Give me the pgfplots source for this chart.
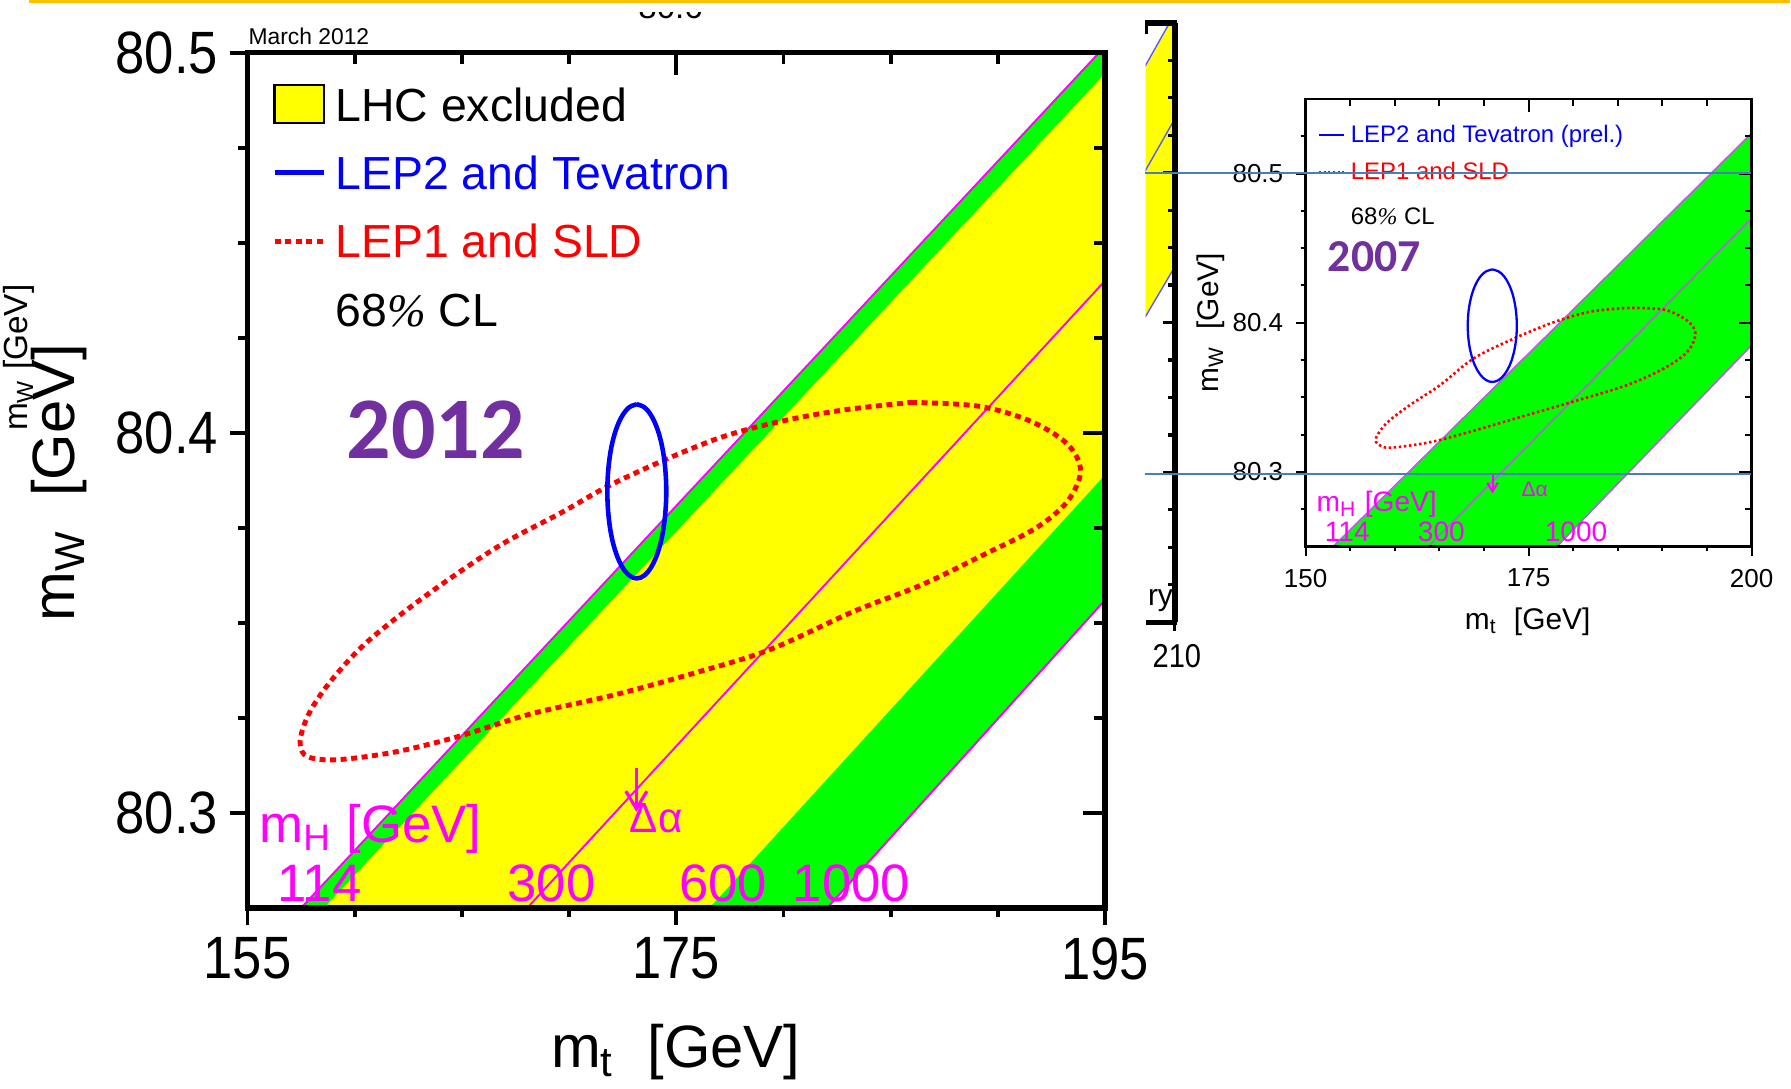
\documentclass[border=0pt]{standalone}
\usepackage{fontspec}
\setmainfont{Liberation Sans}
\newfontfamily\narrowsans[FakeStretch=0.88]{Liberation Sans}
\newfontfamily\calibri{Carlito}
\newfontfamily\timesfont{Liberation Serif}
\usepackage{pgfplots}
\pgfplotsset{compat=1.18}
\usetikzlibrary{arrows.meta}

\definecolor{bandgreen}{RGB}{0,255,0}
\definecolor{bandyellow}{RGB}{255,255,0}
\definecolor{yearpurple}{RGB}{112,48,160}
\definecolor{slidegold}{RGB}{255,192,0}
\definecolor{guideblue}{RGB}{74,126,187}
\definecolor{mhmagenta}{RGB}{255,0,255}
\definecolor{mhviolet}{RGB}{190,90,230}
\definecolor{lepblue}{RGB}{0,0,255}
\definecolor{lepred}{RGB}{255,0,0}
\definecolor{fragblue}{RGB}{90,90,255}

\newcommand{\fs}[1]{\fontsize{#1}{#1}\selectfont}
\newcommand{\pct}{{\timesfont\itshape\%}}

\pgfplotsset{
  framed/.style={scale only axis, clip mode=individual, axis on top,
    scaled ticks=false, /pgf/number format/assume math mode=true},
}

\begin{document}
\begin{tikzpicture}
\useasboundingbox (0,0) rectangle (17.91cm,10.89cm);

% ===================== 2012 panel =====================
\begin{axis}[framed, at={(2.475cm,1.81cm)}, anchor=south west,
  width=8.575cm, height=8.553cm,
  xmin=155, xmax=195, ymin=80.275, ymax=80.5,
  xtick={155,175,195}, minor xtick={160,165,170,180,185,190},
  ytick={80.3,80.4,80.5}, minor ytick={80.325,80.35,80.375,80.425,80.45,80.475},
  tick pos=left, tick align=outside,
  major tick length=0.17cm, minor tick length=0.09cm,
  tick style={black, line width=1.1pt},
  axis line style={line width=1.6pt},
  ticklabel style={font=\narrowsans\fs{17pt}},
]
% m_H band (114 ... 1000 GeV)
\addplot[draw=none, fill=bandgreen] coordinates
  {(156.67,80.27) (196.38,80.51) (197,80.51) (197,80.3685) (181.24,80.27)};
% LHC excluded region
\addplot[draw=none, fill=bandyellow] coordinates
  {(157.74,80.27) (197.57,80.51) (198,80.51) (198,80.4075) (175.73,80.27)};
% constant m_H lines
\addplot[mhmagenta, line width=0.55pt] coordinates {(156.67,80.27) (196.38,80.51)};
\addplot[mhmagenta, line width=0.55pt] coordinates {(167.23,80.27) (196,80.4461)};
\addplot[mhmagenta, line width=0.55pt] coordinates {(181.24,80.27) (197,80.3685)};
% LEP1 and SLD contour
\addplot[lepred, line width=1.4pt, dash pattern=on 1.7pt off 1.3pt, smooth, tension=0.55] coordinates {
  (185.95,80.408) (189.11,80.407) (191.55,80.403) (193.25,80.397) (193.86,80.390)
  (193.25,80.382) (191.79,80.375) (189.36,80.368) (186.44,80.360) (183.27,80.353)
  (179.38,80.343) (175.97,80.337) (172.07,80.331) (168.18,80.326) (164.77,80.320)
  (161.85,80.316) (159.17,80.314) (157.80,80.3148) (157.46,80.318) (157.60,80.3225)
  (158.05,80.328) (158.93,80.335) (160.39,80.344) (162.33,80.353) (164.53,80.362)
  (166.96,80.371) (169.64,80.379) (171.83,80.386) (174.51,80.393) (177.19,80.399)
  (179.86,80.403) (182.79,80.406) (185.95,80.408)};
% LEP2 and Tevatron contour
\addplot[lepblue, line width=1.3pt, smooth, tension=0.6] coordinates {
  (173.160,80.4075) (173.516,80.4067) (173.848,80.4044) (174.132,80.4008) (174.351,80.3961)
  (174.488,80.3905) (174.535,80.3846) (174.488,80.3787) (174.351,80.3731) (174.132,80.3684)
  (173.848,80.3648) (173.516,80.3625) (173.160,80.3617) (172.804,80.3625) (172.472,80.3648)
  (172.188,80.3684) (171.969,80.3731) (171.832,80.3787) (171.785,80.3846) (171.832,80.3905)
  (171.969,80.3961) (172.188,80.4008) (172.472,80.4044) (172.804,80.4067) (173.160,80.4075)};
\draw[mhmagenta, line width=0.9pt, -{Straight Barb[length=5pt,width=6pt]}]
  (axis cs:173.14,80.3119) -- (axis cs:173.14,80.3003);
\end{axis}
% inward ticks on top and right
\begin{axis}[framed, at={(2.475cm,1.81cm)}, anchor=south west,
  width=8.575cm, height=8.553cm,
  xmin=155, xmax=195, ymin=80.275, ymax=80.5,
  xtick={155,175,195}, minor xtick={160,165,170,180,185,190},
  ytick={80.3,80.4,80.5}, minor ytick={80.325,80.35,80.375,80.425,80.45,80.475},
  tick pos=right, tick align=inside,
  major tick length=0.22cm, minor tick length=0.11cm,
  tick style={black, line width=1.1pt},
  axis line style={line width=1.6pt},
  xticklabels={}, yticklabels={},
]
\end{axis}

% ===================== 2007 panel =====================
\begin{axis}[framed, at={(13.056cm,5.425cm)}, anchor=south west,
  width=4.46cm, height=4.475cm,
  xmin=150, xmax=200, ymin=80.25, ymax=80.55,
  xtick={150,175,200}, minor xtick={155,160,165,170,180,185,190,195},
  ytick={80.3,80.4,80.5}, minor ytick={80.275,80.325,80.35,80.375,80.425,80.45,80.475,80.525},
  tick pos=left, tick align=outside,
  major tick length=0.1cm, minor tick length=0.05cm,
  tick style={black, line width=0.6pt},
  axis line style={line width=0.8pt},
  ticklabel style={font=\fs{7.4pt}},
]
\addplot[draw=none, fill=bandgreen] coordinates
  {(151.41,80.24) (205,80.5565) (205,80.4157) (176.57,80.24)};
\addplot[mhviolet, line width=0.45pt] coordinates {(151.41,80.24) (205,80.5565)};
\addplot[mhviolet, line width=0.45pt] coordinates {(162.13,80.24) (205,80.5003)};
\addplot[mhviolet, line width=0.45pt] coordinates {(176.57,80.24) (205,80.4157)};
\addplot[lepred, line width=0.75pt, dash pattern=on 0.7pt off 0.75pt, smooth, tension=0.55] coordinates {
  (186.04,80.4099) (190.16,80.4088) (192.78,80.4014) (193.71,80.3926) (192.78,80.3804)
  (190.16,80.3693) (186.04,80.3582) (180.05,80.3472) (173.69,80.3361) (167.33,80.3250)
  (163.59,80.3195) (159.47,80.3162) (158.16,80.3184) (157.90,80.3228) (159.10,80.3328)
  (161.72,80.3449) (165.09,80.3582) (168.83,80.3760) (173.32,80.3893) (177.81,80.4003)
  (181.93,80.4074) (186.04,80.4099)};
\addplot[lepblue, line width=0.65pt, smooth, tension=0.6] coordinates {
  (170.930,80.4357) (171.642,80.4344) (172.305,80.4307) (172.875,80.4247) (173.312,80.4169)
  (173.586,80.4078) (173.680,80.3980) (173.586,80.3882) (173.312,80.3792) (172.875,80.3713)
  (172.305,80.3654) (171.642,80.3616) (170.930,80.3603) (170.218,80.3616) (169.555,80.3654)
  (168.985,80.3713) (168.548,80.3792) (168.274,80.3882) (168.180,80.3980) (168.274,80.4078)
  (168.548,80.4169) (168.985,80.4247) (169.555,80.4307) (170.218,80.4344) (170.930,80.4357)};
\draw[mhmagenta, line width=0.6pt, -{Straight Barb[length=2.5pt,width=3pt]}]
  (axis cs:170.96,80.298) -- (axis cs:170.96,80.2855);
\end{axis}
\begin{axis}[framed, at={(13.056cm,5.425cm)}, anchor=south west,
  width=4.46cm, height=4.475cm,
  xmin=150, xmax=200, ymin=80.25, ymax=80.55,
  xtick={150,175,200}, minor xtick={155,160,165,170,180,185,190,195},
  ytick={80.3,80.4,80.5}, minor ytick={80.275,80.325,80.35,80.375,80.425,80.45,80.475,80.525},
  tick pos=right, tick align=inside,
  major tick length=0.13cm, minor tick length=0.07cm,
  tick style={black, line width=0.6pt},
  axis line style={line width=0.8pt},
  xticklabels={}, yticklabels={},
]
\end{axis}

% ===================== partly hidden panel =====================
\begin{axis}[scale only axis, clip mode=individual,
  axis line style={draw=none}, xtick=\empty, ytick=\empty,
  at={(11.455cm,4.663cm)}, anchor=south west, width=0.30cm, height=5.999cm,
  xmin=207, xmax=210, ymin=80.2, ymax=80.6]
\addplot[draw=none, fill=bandyellow] coordinates
  {(206.5,80.3985) (211,80.4494) (211,80.6189) (206.5,80.5656)};
\addplot[fragblue, line width=0.4pt] coordinates {(206.5,80.5656) (211,80.6189)};
\addplot[fragblue, line width=0.4pt] coordinates {(206.5,80.4957) (211,80.5485)};
\addplot[fragblue, line width=0.4pt] coordinates {(206.5,80.3985) (211,80.4494)};
\end{axis}

% ===================== text and annotations =====================
\begin{scope}[x=0.01cm, y=-0.01cm, yshift=10.89cm]
% frame of the partly hidden panel
\draw[line width=1.6pt] (1145.6,22.8) -- (1177.8,22.8);
\draw[line width=1.6pt] (1175.5,22.8) -- (1175.5,622.7);
\draw[line width=1.6pt] (1147,622.7) -- (1177.8,622.7);
\foreach \yy in {585.2,547.7,510.2,435.2,397.7,360.2,285.2,247.8,210.3,135.3,97.8,60.3}
  \draw[line width=0.9pt] (1175.5,\yy) -- (1168.5,\yy);
\foreach \yy in {472.7,322.75,172.8}
  \draw[line width=0.9pt] (1175.5,\yy) -- (1164,\yy);
\draw[line width=0.9pt] (1175.5,622.7) -- (1175.5,631.7);
\draw[line width=0.9pt] (1147,22.8) -- (1147,33.8);

\node[anchor=base, inner sep=0, font=\fs{9.4pt}] at (671,18.3) {80.6};
\fill[white] (600,3) rectangle (760,11.7);
\draw[slidegold, line width=0.85pt] (29,1.5) -- (1791,1.5);

% 2012 panel
\node[anchor=base west, inner sep=0, font=\fs{6.5pt}] at (248,45) {March 2012};
\draw[fill=bandyellow, line width=0.7pt] (274.7,85) rectangle (324,123.3);
\draw[lepblue, line width=1.2pt] (274.7,172.7) -- (324,172.7);
\draw[lepred, line width=1.4pt, dash pattern=on 1.7pt off 1.3pt] (274.7,241.7) -- (324,241.7);
\node[anchor=base west, inner sep=0, font=\fs{13.2pt}] at (335,121.7) {LHC excluded};
\node[anchor=base west, inner sep=0, font=\fs{13.2pt}, text=lepblue] at (335,189.3) {LEP2 and Tevatron};
\node[anchor=base west, inner sep=0, font=\fs{13.2pt}, text=lepred] at (335,257.3) {LEP1 and SLD};
\node[anchor=base west, inner sep=0, font=\fs{13.2pt}] at (335,326.7) {68\pct{} CL};
\node[anchor=base west, inner sep=0, font=\calibri\bfseries\fs{25pt}, text=yearpurple] at (346,459) {2012};
\node[anchor=base west, inner sep=0, font=\fs{15pt}, text=mhmagenta] at (259,843) {m\textsubscript{H} [GeV]};
\node[anchor=base west, inner sep=0, font=\fs{15pt}, text=mhmagenta] at (277,902) {114};
\node[anchor=base west, inner sep=0, font=\fs{15pt}, text=mhmagenta] at (507,902) {300};
\node[anchor=base west, inner sep=0, font=\fs{15pt}, text=mhmagenta] at (679,902) {600};
\node[anchor=base west, inner sep=0, font=\fs{15pt}, text=mhmagenta] at (792.5,902) {1000};
\node[anchor=base west, inner sep=0, font=\fs{12pt}, text=mhmagenta] at (629.5,833) {Δα};
\node[anchor=base, inner sep=0, font=\fs{17pt}] at (676,1068) {m\textsubscript{t}\ \ [GeV]};
\node[rotate=90, anchor=base, inner sep=0, font=\fs{17pt}] at (75,483) {m\textsubscript{W}\ \ [GeV]};
\node[rotate=90, anchor=base, inner sep=0, font=\fs{9.5pt}] at (28,358) {m\textsubscript{W} [GeV]};

% 2007 panel
\draw[lepblue, line width=0.6pt] (1320,135) -- (1344.5,135);
\draw[lepred, line width=0.75pt, dash pattern=on 0.6pt off 0.7pt] (1320,172) -- (1347,172);
\node[anchor=base west, inner sep=0, font=\fs{6.8pt}, text=lepblue] at (1351,143) {LEP2 and Tevatron (prel.)};
\node[anchor=base west, inner sep=0, font=\fs{6.8pt}, text=lepred] at (1351,180) {LEP1 and SLD};
\node[anchor=base west, inner sep=0, font=\fs{6.8pt}] at (1351,225) {68\pct{} CL};
\node[anchor=base west, inner sep=0, font=\calibri\bfseries\fs{13pt}, text=yearpurple] at (1328,271.7) {2007};
\node[anchor=base west, inner sep=0, font=\fs{8pt}, text=mhmagenta] at (1316.7,511.7) {m\textsubscript{H} [GeV]};
\node[anchor=base west, inner sep=0, font=\fs{8pt}, text=mhmagenta] at (1325,541.7) {114};
\node[anchor=base west, inner sep=0, font=\fs{8pt}, text=mhmagenta] at (1418,541.7) {300};
\node[anchor=base west, inner sep=0, font=\fs{8pt}, text=mhmagenta] at (1545,541.7) {1000};
\node[anchor=base west, inner sep=0, font=\fs{6pt}, text=mhmagenta] at (1521.7,496.7) {Δα};
\node[anchor=base, inner sep=0, font=\fs{8.5pt}] at (1528.5,630) {m\textsubscript{t}\ \ [GeV]};
\node[rotate=90, anchor=base, inner sep=0, font=\fs{8.5pt}] at (1219,323) {m\textsubscript{W}\ \ [GeV]};

% partly hidden panel labels
\node[anchor=base west, inner sep=0, font=\fs{8.5pt}] at (1148,606) {ry};
\node[anchor=base, inner sep=0, font=\narrowsans\fs{9.4pt}] at (1177.6,668) {210};

% guide lines
\draw[guideblue, line width=0.6pt] (1146,173) -- (1752,173);
\draw[guideblue, line width=0.6pt] (1146,474) -- (1752,474);
\end{scope}
\end{tikzpicture}
\end{document}
